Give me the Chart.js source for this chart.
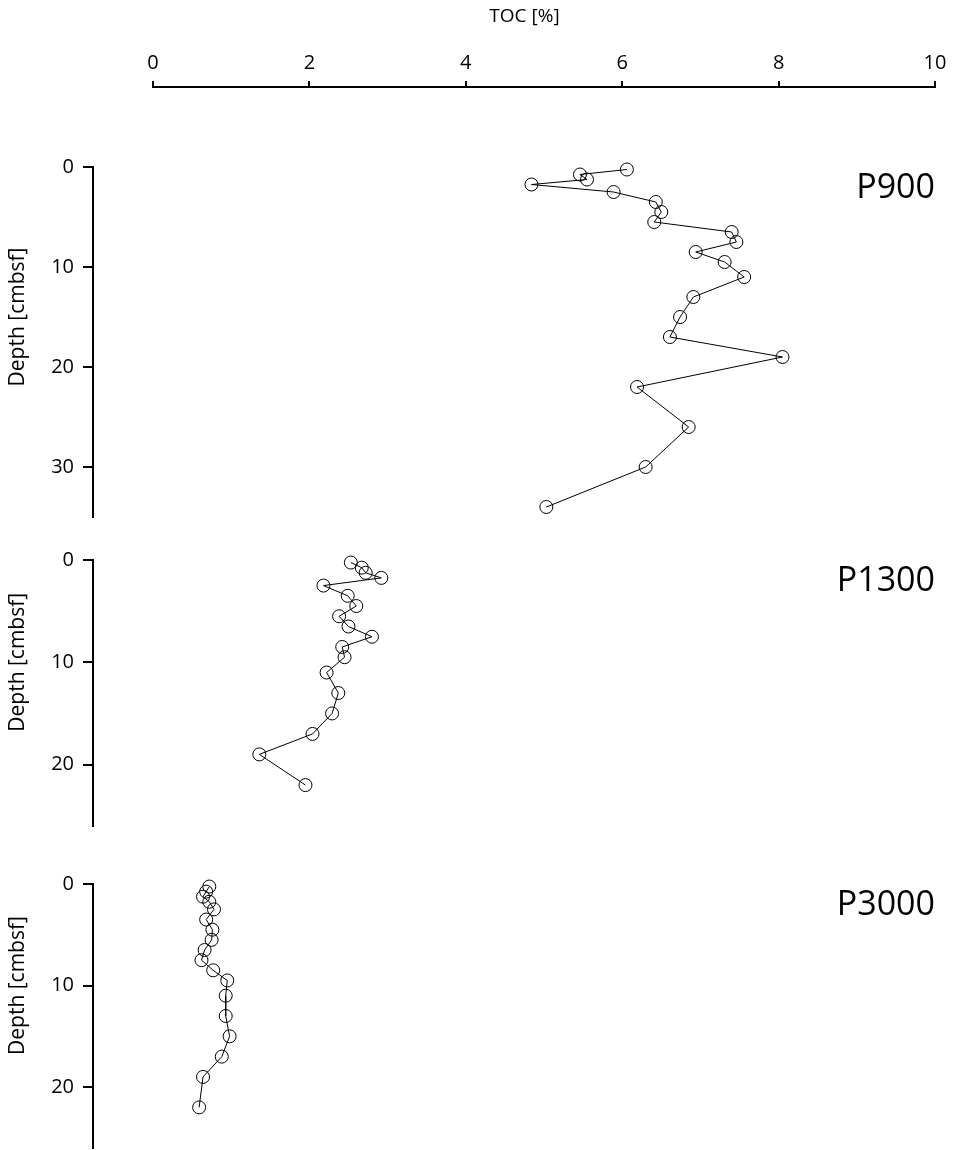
<!DOCTYPE html>
<html>
<head>
<meta charset="utf-8">
<script src="https://cdn.jsdelivr.net/npm/chart.js@4.4.1/dist/chart.umd.min.js"></script>
<style>
  html, body { margin: 0; background: #fff; overflow: hidden; }
  #wrap { position: relative; width: 957px; height: 1150px; overflow: hidden; }
  #wrap canvas { position: absolute; left: 0; }
</style>
</head>
<body>
<div id="wrap">
  <canvas id="tocAxis" width="957" height="100" style="top:0"></canvas>
  <canvas id="p900" width="957" height="400" style="top:142px"></canvas>
  <canvas id="p1300" width="957" height="316" style="top:535px"></canvas>
  <canvas id="p3000" width="957" height="314" style="top:859px"></canvas>
</div>
<script>
// TOC profiles per station, depth in cm below seafloor
const depthP900 = [0.25, 0.75, 1.25, 1.75, 2.5, 3.5, 4.5, 5.5, 6.5, 7.5, 8.5, 9.5, 11, 13, 15, 17, 19, 22, 26, 30, 34];
const tocP900 = [6.06, 5.46, 5.55, 4.84, 5.89, 6.43, 6.50, 6.41, 7.40, 7.46, 6.94, 7.31, 7.56, 6.91, 6.74, 6.61, 8.05, 6.19, 6.85, 6.30, 5.03];

const depthP1300 = [0.25, 0.75, 1.25, 1.75, 2.5, 3.5, 4.5, 5.5, 6.5, 7.5, 8.5, 9.5, 11, 13, 15, 17, 19, 22];
const tocP1300 = [2.53, 2.67, 2.72, 2.92, 2.18, 2.49, 2.60, 2.38, 2.50, 2.80, 2.42, 2.45, 2.22, 2.37, 2.29, 2.04, 1.36, 1.95];

const depthP3000 = [0.25, 0.75, 1.25, 1.75, 2.5, 3.5, 4.5, 5.5, 6.5, 7.5, 8.5, 9.5, 11, 13, 15, 17, 19, 22];
const tocP3000 = [0.72, 0.68, 0.64, 0.72, 0.78, 0.68, 0.76, 0.75, 0.66, 0.62, 0.77, 0.95, 0.93, 0.93, 0.98, 0.88, 0.64, 0.59];

const tocTicks = [0, 2, 4, 6, 8, 10];
const depthTicksLong = [0, 10, 20, 30];
const depthTicksShort = [0, 10, 20];

// depth axis stands a bit left of TOC = 0
const tocAxisMin = -0.767;
const tocAxisMax = 10;

Chart.defaults.font.family = '"Open Sans", sans-serif';
Chart.defaults.color = '#000';
Chart.defaults.animation = false;

// axis title above the TOC ticks
const tocTitle = {
  id: 'tocTitle',
  afterDraw(chart, args, opts) {
    const ctx = chart.ctx;
    ctx.save();
    ctx.fillStyle = '#000';
    ctx.font = '19px "Open Sans"';
    ctx.textAlign = 'center';
    ctx.textBaseline = 'middle';
    ctx.fillText(opts.text, chart.scales.x.getPixelForValue(opts.at), 17);
    ctx.restore();
  }
};

// station name on the right and centred depth title
const panelText = {
  id: 'panelText',
  afterDraw(chart, args, opts) {
    const ctx = chart.ctx;
    const y = chart.scales.y;
    ctx.save();
    ctx.fillStyle = '#000';
    ctx.font = '34px "Open Sans"';
    ctx.textAlign = 'right';
    ctx.textBaseline = 'middle';
    ctx.fillText(opts.name, chart.chartArea.right, y.getPixelForValue(2.1));

    const mid = (y.getPixelForValue(0) + y.getPixelForValue(opts.lastTick)) / 2;
    ctx.translate(18, mid);
    ctx.rotate(-Math.PI / 2);
    ctx.textAlign = 'center';
    ctx.font = '21px "Open Sans"';
    ctx.fillText('Depth [cmbsf]', 0, 0);
    ctx.restore();
  }
};

// shared TOC axis along the top
new Chart(document.getElementById('tocAxis'), {
  type: 'scatter',
  data: { datasets: [{ data: [] }] },
  options: {
    responsive: false,
    layout: { padding: { left: 153, right: 22, top: 0, bottom: 0 } },
    plugins: {
      legend: { display: false },
      tooltip: { enabled: false },
      tocTitle: { text: 'TOC [%]', at: 4.75 }
    },
    scales: {
      x: {
        type: 'linear',
        position: 'top',
        min: 0,
        max: 10,
        afterBuildTicks: s => { s.ticks = tocTicks.map(v => ({ value: v })); },
        afterFit: s => { s.height = 87; },
        ticks: { font: { size: 20 }, padding: 6, maxRotation: 0 },
        grid: { drawOnChartArea: false, color: '#000', lineWidth: 2, tickLength: 6 },
        border: { display: true, color: '#000', width: 2 }
      },
      y: { display: false }
    }
  },
  plugins: [tocTitle]
});

function profile(id, name, toc, depth, maxDepth, ticks) {
  const points = toc.map((v, i) => ({ x: v, y: depth[i] }));
  return new Chart(document.getElementById(id), {
    type: 'scatter',
    data: {
      datasets: [{
        data: points,
        showLine: true,
        borderColor: '#000',
        borderWidth: 1,
        pointRadius: 6.5,
        pointBorderColor: '#000',
        pointBorderWidth: 1,
        pointBackgroundColor: 'rgba(0,0,0,0)',
        clip: false
      }]
    },
    options: {
      responsive: false,
      layout: { padding: { left: 0, right: 22, top: 25, bottom: 25 } },
      plugins: {
        legend: { display: false },
        tooltip: { enabled: false },
        panelText: { name: name, lastTick: ticks[ticks.length - 1] }
      },
      scales: {
        x: { type: 'linear', display: false, min: tocAxisMin, max: tocAxisMax },
        y: {
          type: 'linear',
          reverse: true,
          min: 0,
          max: maxDepth,
          afterBuildTicks: s => { s.ticks = ticks.map(v => ({ value: v })); },
          afterFit: s => { s.width = 93; },
          ticks: { font: { size: 20 }, padding: 9 },
          grid: { drawOnChartArea: false, color: '#000', lineWidth: 2, tickLength: 10 },
          border: { display: true, color: '#000', width: 2 }
        }
      }
    },
    plugins: [panelText]
  });
}

profile('p900', 'P900', tocP900, depthP900, 35, depthTicksLong);
profile('p1300', 'P1300', tocP1300, depthP1300, 26, depthTicksShort);
profile('p3000', 'P3000', tocP3000, depthP3000, 26, depthTicksShort);
</script>
</body>
</html>
